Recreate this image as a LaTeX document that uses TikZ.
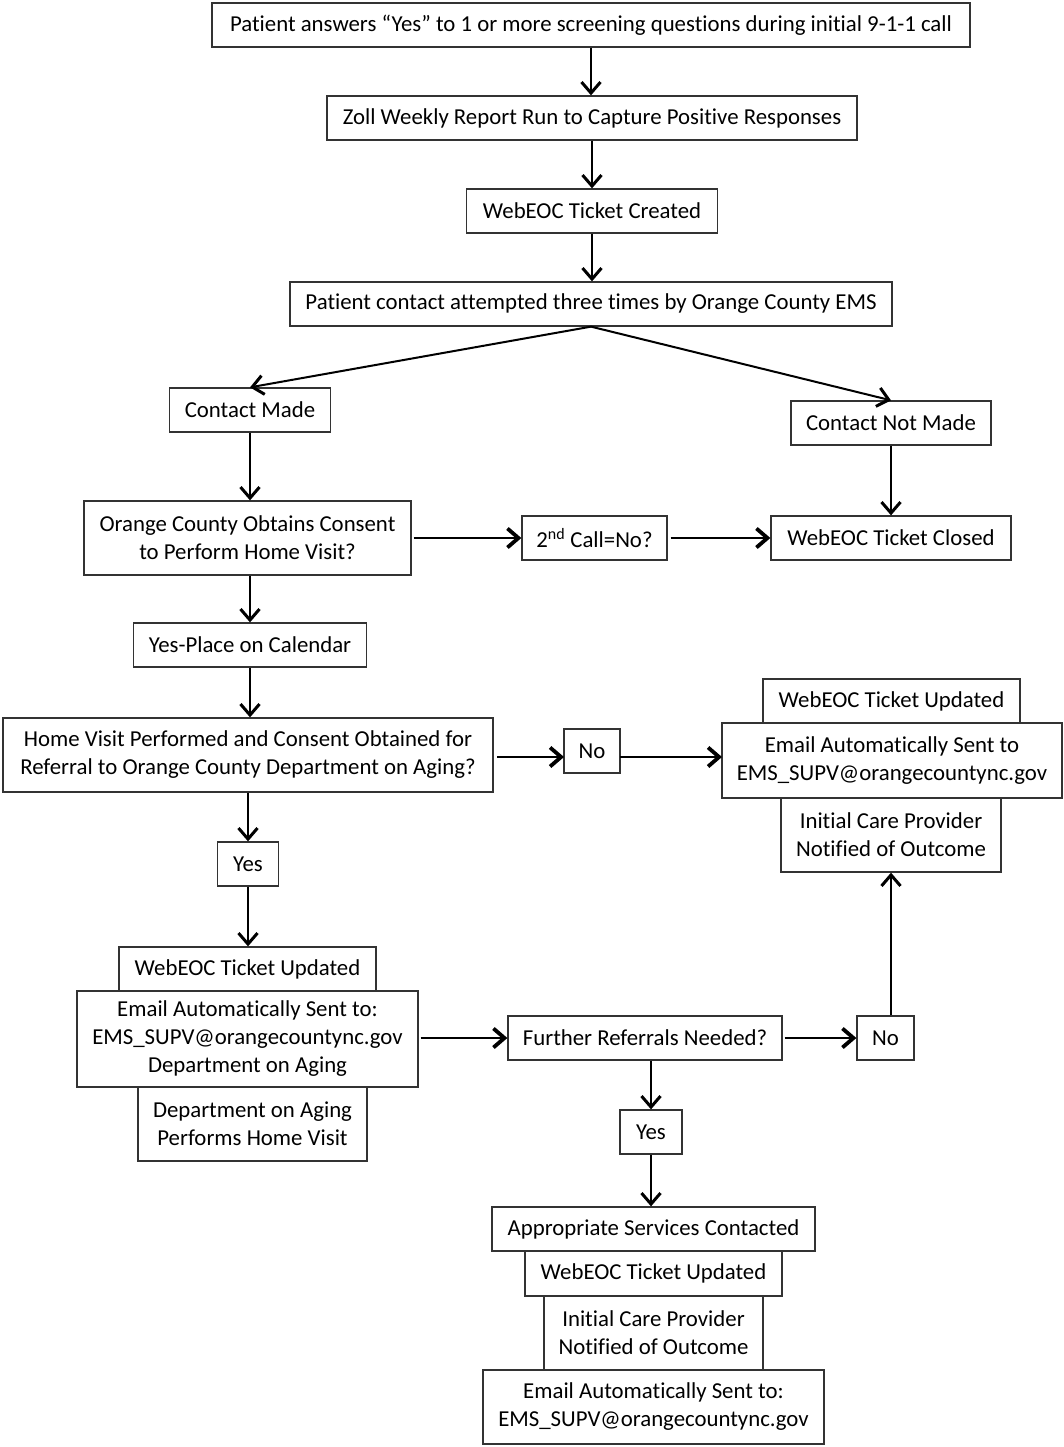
\documentclass[tikz,border=0pt]{standalone}
\usepackage{fontspec}
\setmainfont{Carlito}[Ligatures=NoCommon]
\usetikzlibrary{arrows.meta}
\begin{document}
\begin{tikzpicture}[x=1pt,y=-1pt,
  box/.style={draw=black!80, line width=1.3pt, inner sep=0pt, align=center,
    font=\fontsize{22.8}{28}\selectfont},
  wh/.style 2 args={minimum width=#1pt, minimum height=#2pt},
  arr/.style={line width=2pt, -{Straight Barb[length=11pt,width=19pt,line width=3pt 0]}},
  harr/.style={line width=2.6pt, -{Straight Barb[length=11pt,width=19pt,line width=3.8pt 0]}}]
\useasboundingbox (0,0) rectangle (1064,1447);
\fill[white] (0,0) rectangle (1064,1447);

\node[box, wh={758}{44}] (n1) at (591,25) {Patient answers “Yes” to 1 or more screening questions during initial 9-1-1 call};
\node[box, wh={530}{44}] (n2) at (592,118) {Zoll Weekly Report Run to Capture Positive Responses};
\node[box, wh={251}{44}] (n3) at (592,211) {WebEOC Ticket Created};
\node[box, wh={602}{44}] (n4) at (591,304) {Patient contact attempted three times by Orange County EMS};
\node[box, wh={161}{44}] (n5) at (250,410) {Contact Made};
\node[box, wh={200}{44}] (n6) at (891,423) {Contact Not Made};
\node[box, wh={327}{74}] (n7) at (247.5,538) {Orange County Obtains Consent\\to Perform Home Visit?};
\node[box, wh={145}{44}] (n8) at (594.5,538) {2\textsuperscript{nd} Call=No?};
\node[box, wh={240}{44}] (n9) at (891,538) {WebEOC Ticket Closed};
\node[box, wh={233}{44}] (n10) at (250,645) {Yes-Place on Calendar};
\node[box, wh={490}{74}] (n11) at (248,755) {Home Visit Performed and Consent Obtained for\\Referral to Orange County Department on Aging?};
\node[box, wh={56}{44}] (n12) at (592,751) {No};
\node[box, wh={257}{44}] (n13) at (891.5,701) {WebEOC Ticket Updated};
\node[box, wh={340}{75}] (n14) at (892,760.5) {Email Automatically Sent to\\EMS\_SUPV@orangecountync.gov};
\node[box, wh={220}{74}] (n15) at (891,835) {Initial Care Provider\\Notified of Outcome};
\node[box, wh={61}{44}] (n16) at (248,864) {Yes};
\node[box, wh={257}{44}] (n17) at (247.5,969) {WebEOC Ticket Updated};
\node[box, wh={341}{96}] (n18) at (247.5,1039) {Email Automatically Sent to:\\EMS\_SUPV@orangecountync.gov\\Department on Aging};
\node[box, wh={229}{74}] (n19) at (252.5,1124) {Department on Aging\\Performs Home Visit};
\node[box, wh={274}{44}] (n20) at (645,1038) {Further Referrals Needed?};
\node[box, wh={57}{44}] (n21) at (885.5,1038) {No};
\node[box, wh={62}{44}] (n22) at (651,1132) {Yes};
\node[box, wh={323}{44}] (n23) at (653.5,1229) {Appropriate Services Contacted};
\node[box, wh={257}{45}] (n24) at (653.5,1273.5) {WebEOC Ticket Updated};
\node[box, wh={219}{74}] (n25) at (653.5,1333) {Initial Care Provider\\Notified of Outcome};
\node[box, wh={341}{74}] (n26) at (653.5,1407) {Email Automatically Sent to:\\EMS\_SUPV@orangecountync.gov};

\coordinate (c11) at (497,757);
\coordinate (c12a) at (564,757);
\coordinate (c12b) at (620,757);
\coordinate (c14) at (722,757);

\draw[arr] (n1.south) -- (n1.south |- n2.north);
\draw[arr] (n2.south) -- (n2.south |- n3.north);
\draw[arr] (n3.south) -- (n3.south |- n4.north);
\draw[arr] (n4.south) -- (n5.north);
\draw[arr] (n4.south) -- (n6.north);
\draw[arr] (n5.south) -- (n5.south |- n7.north);
\draw[arr] (n6.south) -- (n6.south |- n9.north);
\draw[harr] ([xshift=2pt]n7.east) -- (n8.west);
\draw[harr] ([xshift=3pt]n8.east) -- (n9.west);
\draw[arr] (n10.north |- n7.south) -- (n10.north);
\draw[arr] (n10.south) -- (n10.south |- n11.north);
\draw[harr] (c11) -- (c12a);
\draw[harr] (c12b) -- (c14);
\draw[arr] (n11.south) -- (n11.south |- n16.north);
\draw[arr] (n16.south) -- (n16.south |- n17.north);
\draw[harr] ([xshift=2pt]n18.east |- n20.west) -- (n20.west);
\draw[harr] ([xshift=2pt]n20.east) -- (n21.west);
\draw[arr] (n15.south |- n21.north) -- (n15.south);
\draw[arr] (n22.north |- n20.south) -- (n22.north);
\draw[arr] (n22.south) -- (n22.south |- n23.north);
\end{tikzpicture}
\end{document}
